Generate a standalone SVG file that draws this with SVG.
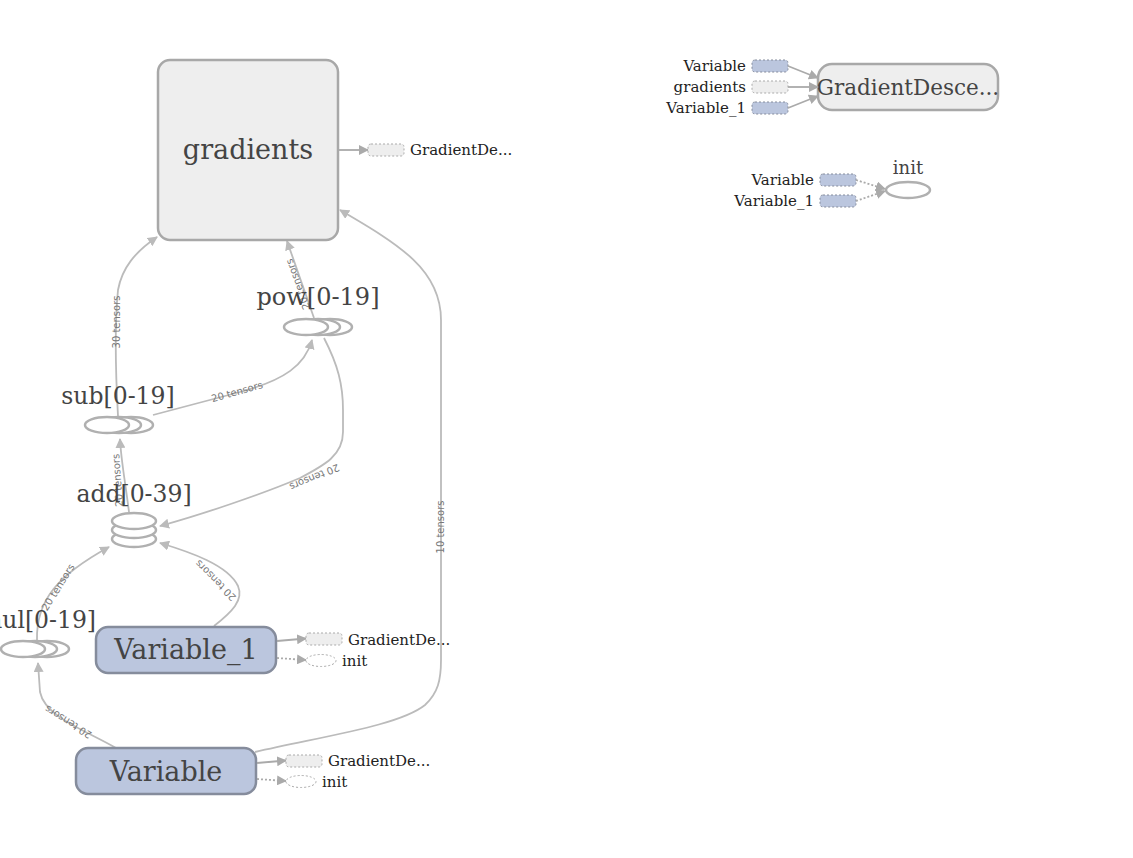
<svg xmlns="http://www.w3.org/2000/svg" width="1133" height="858" viewBox="0 0 1133 858">
<defs>
<style>
.nt{font-family:"DejaVu Serif",serif;fill:#444;text-anchor:middle}
.at{font-family:"DejaVu Serif",serif;fill:#222;font-size:15px}
.el{font-family:"DejaVu Sans",sans-serif;fill:#777;font-size:10px;text-anchor:middle}
.edge{fill:none;stroke:#bbb;stroke-width:1.8}
.ann{fill:none;stroke:#aaa;stroke-width:1.8}
.annd{fill:none;stroke:#aaa;stroke-width:1.8;stroke-dasharray:2,2}
.grey{fill:#eee;stroke:#a8a8a8;stroke-width:2.5}
.var{fill:#bbc6de;stroke:#858c9c;stroke-width:2.5}
.ell{fill:#fff;stroke:#b0b0b0;stroke-width:2.5}
.stub{fill:#eee;stroke:#aaa;stroke-width:1;stroke-dasharray:2,2}
.stubv{fill:#bbc6de;stroke:#858c9c;stroke-width:1;stroke-dasharray:2,2}
.stube{fill:#fff;stroke:#aaa;stroke-width:1;stroke-dasharray:2,2}
</style>
<marker id="ah" viewBox="0 0 10 10" refX="9" refY="5" markerWidth="10" markerHeight="10" markerUnits="userSpaceOnUse" orient="auto">
<path d="M0,0 L10,5 L0,10 z" fill="#bbb"/>
</marker>
<marker id="ah2" viewBox="0 0 10 10" refX="9" refY="5" markerWidth="10" markerHeight="10" markerUnits="userSpaceOnUse" orient="auto">
<path d="M0,0 L10,5 L0,10 z" fill="#aaa"/>
</marker>
</defs>
<rect width="1133" height="858" fill="#fff"/>

<g id="edges">
<path class="edge" marker-end="url(#ah)" d="M118,416 C116,380 114,330 118,290 C122,268 135,252 157,237"/>
<text class="el" transform="translate(120,322) rotate(-90)">30 tensors</text>
<path class="edge" marker-end="url(#ah)" d="M314,318 L287,241"/>
<text class="el" transform="translate(301,283) rotate(-110)">20 tensors</text>
<path class="edge" marker-end="url(#ah)" d="M153,415 L240,392 C285,380 305,365 312,340"/>
<text class="el" transform="translate(238,395) rotate(-16)">20 tensors</text>
<path class="edge" marker-end="url(#ah)" d="M324,338 C338,365 343,385 343,410 L343,432 C343,455 325,465 300,478 C260,495 200,515 160,526"/>
<text class="el" transform="translate(313,474) rotate(157)">20 tensors</text>
<path class="edge" marker-end="url(#ah)" d="M129,512 C125,480 121,460 120,439"/>
<text class="el" transform="translate(121,480) rotate(-94)">20 tensors</text>
<path class="edge" marker-end="url(#ah)" d="M37,640 C36,600 58,575 109,547"/>
<text class="el" transform="translate(61,589) rotate(-58)">20 tensors</text>
<path class="edge" marker-end="url(#ah)" d="M214,626 C232,612 244,600 238,586 C228,565 190,552 160,543"/>
<text class="el" transform="translate(218,578) rotate(-135)">20 tensors</text>
<path class="edge" marker-end="url(#ah)" d="M116,748 C85,730 45,717 40,692 L38,663"/>
<text class="el" transform="translate(70,719) rotate(-148)">20 tensors</text>
<path class="edge" marker-end="url(#ah)" d="M255,752 C330,735 400,725 425,705 C438,693 441,680 441,660 L441,320 C441,270 400,245 340,210"/>
<text class="el" transform="translate(444,527) rotate(-90)">10 tensors</text>
</g>

<g id="gradients">
<rect class="grey" x="158" y="60" width="180" height="180" rx="12"/>
<text class="nt" x="248" y="159" font-size="27">gradients</text>
<path class="ann" marker-end="url(#ah2)" d="M339,150 L368,150"/>
<rect class="stub" x="368" y="144" width="36" height="12" rx="3"/>
<text class="at" x="410" y="155">GradientDe...</text>
</g>

<g id="pow">
<text class="nt" x="318" y="305" font-size="24">pow[0-19]</text>
<ellipse class="ell" cx="330" cy="327" rx="22" ry="8"/>
<ellipse class="ell" cx="318" cy="327" rx="22" ry="8"/>
<ellipse class="ell" cx="306" cy="327" rx="22" ry="8"/>
</g>

<g id="sub">
<text class="nt" x="118" y="404" font-size="23.5">sub[0-19]</text>
<ellipse class="ell" cx="131" cy="425" rx="22" ry="8"/>
<ellipse class="ell" cx="119" cy="425" rx="22" ry="8"/>
<ellipse class="ell" cx="107" cy="425" rx="22" ry="8"/>
</g>

<g id="add">
<text class="nt" x="134" y="502" font-size="23.5">add[0-39]</text>
<ellipse class="ell" cx="134" cy="539" rx="22" ry="8"/>
<ellipse class="ell" cx="134" cy="530" rx="22" ry="8"/>
<ellipse class="ell" cx="134" cy="521" rx="22" ry="8"/>
</g>

<g id="mul">
<text class="nt" x="38" y="628" font-size="23.5">mul[0-19]</text>
<ellipse class="ell" cx="47" cy="649" rx="22" ry="8"/>
<ellipse class="ell" cx="35" cy="649" rx="22" ry="8"/>
<ellipse class="ell" cx="23" cy="649" rx="22" ry="8"/>
</g>

<g id="Variable_1">
<rect class="var" x="96" y="627" width="180" height="46" rx="12"/>
<text class="nt" x="186" y="659" font-size="27">Variable_1</text>
<path class="ann" marker-end="url(#ah2)" d="M277,641 L306,638.5"/>
<rect class="stub" x="306" y="633" width="36" height="12" rx="3"/>
<text class="at" x="348" y="645">GradientDe...</text>
<path class="annd" marker-end="url(#ah2)" d="M277,658 L306,660"/>
<ellipse class="stube" cx="321" cy="660.5" rx="15" ry="6"/>
<text class="at" x="342" y="666">init</text>
</g>

<g id="Variable">
<rect class="var" x="76" y="748" width="180" height="46" rx="12"/>
<text class="nt" x="166" y="781" font-size="27">Variable</text>
<path class="ann" marker-end="url(#ah2)" d="M257,763 L286,760.5"/>
<rect class="stub" x="286" y="755" width="36" height="12" rx="3"/>
<text class="at" x="328" y="766">GradientDe...</text>
<path class="annd" marker-end="url(#ah2)" d="M257,779 L286,781"/>
<ellipse class="stube" cx="301" cy="781.5" rx="15" ry="6"/>
<text class="at" x="322" y="787">init</text>
</g>

<g id="GradientDescent">
<rect class="grey" x="818" y="64" width="180" height="46" rx="14"/>
<text class="nt" x="908" y="95" font-size="21.5">GradientDesce...</text>
<rect class="stubv" x="752" y="60" width="36" height="12" rx="3"/>
<rect class="stub" x="752" y="81" width="36" height="12" rx="3"/>
<rect class="stubv" x="752" y="102" width="36" height="12" rx="3"/>
<text class="at" x="746" y="71" text-anchor="end">Variable</text>
<text class="at" x="746" y="92" text-anchor="end">gradients</text>
<text class="at" x="746" y="113" text-anchor="end">Variable_1</text>
<path class="ann" marker-end="url(#ah2)" d="M788,66 L818,78"/>
<path class="ann" marker-end="url(#ah2)" d="M788,87 L818,87"/>
<path class="ann" marker-end="url(#ah2)" d="M788,108 L818,96"/>
</g>

<g id="init">
<text class="nt" x="908" y="174" font-size="18">init</text>
<ellipse class="ell" cx="908" cy="190" rx="22" ry="8"/>
<rect class="stubv" x="820" y="174" width="36" height="12" rx="3"/>
<rect class="stubv" x="820" y="195" width="36" height="12" rx="3"/>
<text class="at" x="814" y="185" text-anchor="end">Variable</text>
<text class="at" x="814" y="206" text-anchor="end">Variable_1</text>
<path class="annd" marker-end="url(#ah2)" d="M856,180 L885,189"/>
<path class="annd" marker-end="url(#ah2)" d="M856,201 L885,191"/>
</g>
</svg>
